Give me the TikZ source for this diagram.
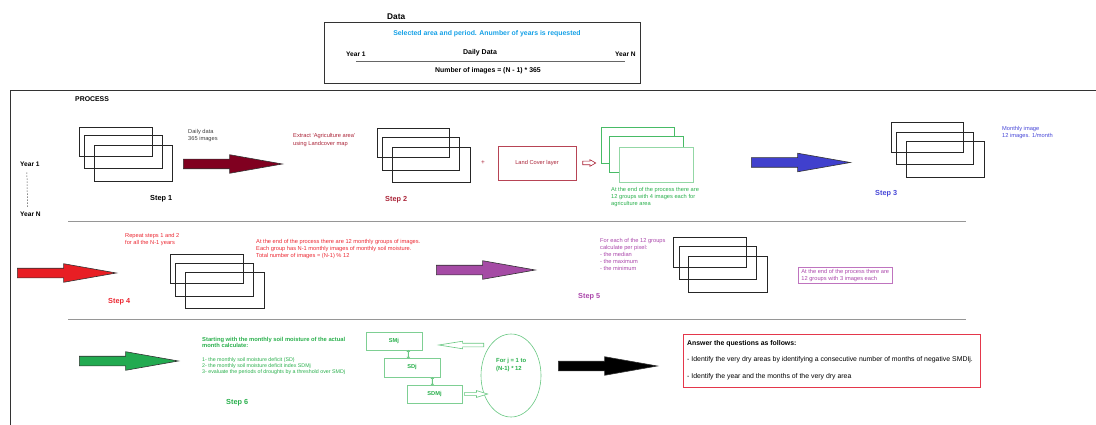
\documentclass[tikz,border=0pt]{standalone}
\usepackage{fontspec}
\setmainfont{Liberation Sans}
\usetikzlibrary{shapes.geometric,shapes.arrows}
\definecolor{arrowred}{RGB}{128,0,32}
\definecolor{darkred}{RGB}{170,35,55}
\definecolor{skyblue}{RGB}{20,160,230}
\definecolor{stepblue}{RGB}{70,70,215}
\definecolor{arrowblue}{RGB}{64,64,205}
\definecolor{stepred}{RGB}{235,40,50}
\definecolor{arrowredb}{RGB}{232,30,36}
\definecolor{steppurple}{RGB}{170,70,170}
\definecolor{arrowpurple}{RGB}{165,75,165}
\definecolor{stepgreen}{RGB}{40,175,75}
\definecolor{arrowgreen}{RGB}{34,170,80}
\definecolor{ansred}{RGB}{228,55,75}
\definecolor{sepgray}{RGB}{150,150,150}

\begin{document}
\begin{tikzpicture}[x=1pt,y=-1pt]
\tikzstyle{every node}=[inner sep=0pt,align=left]
\tikzstyle{txt}=[font=\fontsize{5.7}{7}\selectfont,anchor=north west]
\tikzstyle{bold}=[font=\fontsize{6.9}{8}\selectfont\bfseries,anchor=base west]
\tikzstyle{stepl}=[font=\fontsize{7.3}{8}\selectfont\bfseries,anchor=base west]
\tikzstyle{img}=[rectangle,draw=black!85,line width=0.8pt,anchor=north west]
\tikzstyle{gimg}=[img,draw=stepgreen!85,fill=white]
\tikzstyle{bigarrow}=[single arrow,draw=black!80,line width=0.6pt,inner ysep=4.5pt,minimum height=99pt,single arrow head extend=4.5pt,single arrow tip angle=20,anchor=tail]
\tikzstyle{hollow}=[single arrow,draw,fill=white,line width=0.6pt,anchor=tail]
\tikzstyle{tiny}=[double arrow,draw=stepgreen!70,fill=white,line width=0.5pt,shape border rotate=90,inner ysep=1pt,double arrow head extend=1pt,double arrow tip angle=90,minimum height=8pt]
\tikzstyle{gbox}=[rectangle,draw=stepgreen!60,line width=0.7pt,font=\fontsize{5.7}{7}\selectfont\bfseries,text=stepgreen]
\tikzstyle{sep}=[draw=sepgray,line width=0.9pt]
\useasboundingbox (0,0) rectangle (1096,425);

% data
\node[bold,font=\fontsize{8.3}{9}\selectfont\bfseries] (data) at (387,20) {Data};
\node[rectangle,draw=black!80,line width=0.8pt,minimum width=316pt,minimum height=61pt,anchor=north west] (dbox) at (324,22) {};
\node[bold,anchor=base,text=skyblue] (dsel) at (487,36) {Selected area and period. Anumber of years is requested};
\node[bold,font=\fontsize{6.6}{8}\selectfont\bfseries] (dy1) at (346,57) {Year 1};
\node[bold,anchor=base,font=\fontsize{7}{8}\selectfont\bfseries] (dday) at (480,55) {Daily Data};
\node[bold,font=\fontsize{6.6}{8}\selectfont\bfseries] (dyn) at (615,57) {Year N};
\node[bold,anchor=base] (dnum) at (488,73) {Number of images = (N - 1) * 365};
\draw[draw=black!60,line width=1.2pt] ([yshift=-4pt]dy1.south) -- ([yshift=-4pt]dyn.south);

% process frame
\draw[black!80,line width=0.8pt] (10,425) -- (10,90) -- (1096,90);
\node[bold] (proc) at (75,102) {PROCESS};
\draw[sep] (68,221) -- (966,221);
\draw[sep] (68,319) -- (966,319);

% step 1
\node[bold,font=\fontsize{6.6}{8}\selectfont\bfseries] (yr1) at (20,166.5) {Year 1};
\node[bold,font=\fontsize{6.6}{8}\selectfont\bfseries] (yrn) at (20,217) {Year N};
\draw[black!70,line width=0.5pt,dash pattern=on 1.5pt off 1.5pt] ([xshift=-3pt,yshift=-5.5pt]yr1.south) -- ([xshift=-3pt,yshift=5.5pt]yrn.north);
\node[img,minimum width=73pt,minimum height=29pt] (s1a) at (79,127) {};
\node[img,minimum width=78pt,minimum height=33pt] (s1b) at (84,135) {};
\node[img,minimum width=78pt,minimum height=36pt] (s1c) at (94,145) {};
\node[txt,text=black!75] (daily) at (188,128.8) {Daily data\\365 images};
\node[bigarrow,fill=arrowred] (ar1) at (183,164) {};
\node[stepl] (st1) at (150,200.5) {Step 1};

% step 2
\node[txt,text=darkred,font=\fontsize{5.7}{8}\selectfont] (extr) at (293,132.8) {Extract `Agriculture area'\\using Landcover map};
\node[img,minimum width=72pt,minimum height=29pt] (s2a) at (377,128) {};
\node[img,minimum width=77pt,minimum height=33pt] (s2b) at (382,137) {};
\node[img,minimum width=78pt,minimum height=35pt] (s2c) at (392,147) {};
\node[text=darkred,font=\fontsize{6.5}{7}\selectfont] (plus) at (483,163) {+};
\node[rectangle,draw=darkred!85,line width=0.8pt,minimum width=78pt,minimum height=34pt,font=\fontsize{5.7}{7}\selectfont,text=darkred] (lc) at (537,163) {Land Cover layer};
\node[gimg,minimum width=73pt,minimum height=36pt] (ga) at (601,127) {};
\node[gimg,minimum width=74pt,minimum height=36pt] (gb) at (609,136) {};
\node[gimg,draw=stepgreen!50,minimum width=74pt,minimum height=35pt] (gc) at (619,147) {};
\node[hollow,draw=darkred,minimum height=13pt,inner ysep=1.5pt,single arrow head extend=1.5pt,single arrow tip angle=60] (lcarr) at ([xshift=6pt]lc.east) {};
\node[txt,text=stepgreen] (gtxt) at (611,186.8) {At the end of the process there are\\12 groups with 4 images each for\\agriculture area};
\node[stepl,text=darkred] (st2) at (385,202) {Step 2};

% step 3
\node[bigarrow,fill=arrowblue] (ar2) at (751,162.5) {};
\node[img,minimum width=72pt,minimum height=30pt] (s3a) at (891,122) {};
\node[img,minimum width=77pt,minimum height=32pt] (s3b) at (896,132) {};
\node[img,minimum width=78pt,minimum height=36pt] (s3c) at (906,141) {};
\node[txt,text=stepblue] (month) at (1002,125.8) {Monthly image\\12 images. 1/month};
\node[stepl,text=stepblue] (st3) at (875,196) {Step 3};

% step 4
\node[bigarrow,fill=arrowredb] (ar3) at (17,273) {};
\node[txt,text=stepred] (rep) at (125,232.8) {Repeat steps 1 and 2\\for all the N-1 years};
\node[img,minimum width=73pt,minimum height=29pt] (s4a) at (170,254) {};
\node[img,minimum width=78pt,minimum height=33pt] (s4b) at (175,263) {};
\node[img,minimum width=79pt,minimum height=36pt] (s4c) at (185,272) {};
\node[txt,text=stepred] (redtxt) at (256,238.8) {At the end of the process there are 12 monthly groups of images.\\Each group has N-1 monthly images of monthly soil moisture.\\Total number of images = (N-1) \% 12};
\node[stepl,text=stepred] (st4) at (108,303) {Step 4};

% step 5
\node[bigarrow,fill=arrowpurple] (ar4) at (436,270) {};
\node[txt,text=steppurple] (purp) at (600,237.8) {For each of the 12 groups\\calculate per pixel:\\- the median\\- the maximum\\- the minimum};
\node[img,minimum width=73pt,minimum height=30pt] (s5a) at (673,237) {};
\node[img,minimum width=77pt,minimum height=33pt] (s5b) at (679,246) {};
\node[img,minimum width=79pt,minimum height=36pt] (s5c) at (688,256) {};
\node[rectangle,draw=steppurple!75,line width=0.7pt,inner xsep=3pt,inner ysep=2pt,anchor=north west,font=\fontsize{5.7}{7}\selectfont,text=steppurple] (pbox) at (798,267) {At the end of the process there are\\12 groups with 3 images each};
\node[stepl,text=steppurple] (st5) at (578,298) {Step 5};

% step 6
\node[bigarrow,fill=arrowgreen] (ar5) at (79,361) {};
\node[txt,text=stepgreen,font=\fontsize{5.8}{6}\selectfont\bfseries] (start) at (202,337.3) {Starting with the monthly soil moisture of the actual\\month calculate:};
\node[txt,text=stepgreen,font=\fontsize{5.3}{6}\selectfont] (list) at (202,357.2) {1- the monthly soil moisture deficit (SD)\\2- the monthly soil moisture deficit index SDMj\\3- evaluate the periods of droughts by a threshold over SMDj};
\node[stepl,text=stepgreen] (st6) at (226,404) {Step 6};
\node[gbox,minimum width=56pt,minimum height=18pt] (smj) at (394,341) {SMj};
\node[gbox,minimum width=56pt,minimum height=19pt] (sdj) at (412,367.5) {SDj};
\node[gbox,minimum width=55pt,minimum height=18pt] (sdmj) at (434.5,394) {SDMj};
\node[ellipse,draw=stepgreen!70,line width=0.6pt,minimum width=60pt,minimum height=83pt] (loop) at (511,375.5) {};
\node[txt,text=stepgreen,font=\fontsize{5.9}{8}\selectfont\bfseries] (looptxt) at (496,357.7) {For j = 1 to\\(N-1) * 12};
\node[tiny] (upd1) at ([xshift=-14pt,yshift=-4pt]smj.south east) {};
\node[tiny] (upd2) at ([xshift=-8pt,yshift=-4pt]sdj.south east) {};
\node[hollow,draw=stepgreen!70,shape border rotate=180,minimum height=45pt,inner ysep=1.5pt,single arrow head extend=2pt,single arrow tip angle=18] (back) at (484,345) {};
\node[hollow,draw=stepgreen!70,minimum height=23pt,inner ysep=1.3pt,single arrow head extend=1.8pt,single arrow tip angle=34] (fwd) at ([xshift=2pt]sdmj.east) {};
\node[bigarrow,fill=black] (ar6) at (558,366) {};

% answer
\node[rectangle,draw=ansred,line width=0.8pt,minimum width=297pt,minimum height=53pt,anchor=north west] (ans) at (683,334) {};
\node[bold] (ansh) at (687,345.5) {Answer the questions as follows:};
\node[bold,font=\fontsize{6.9}{8}\selectfont] (ans1) at (687,361) {- Identify the very dry areas by identifying a consecutive number of months of negative SMDIj.};
\node[bold,font=\fontsize{6.9}{8}\selectfont] (ans2) at (687,378.5) {- Identify the year and the months of the very dry area};
\end{tikzpicture}
\end{document}
